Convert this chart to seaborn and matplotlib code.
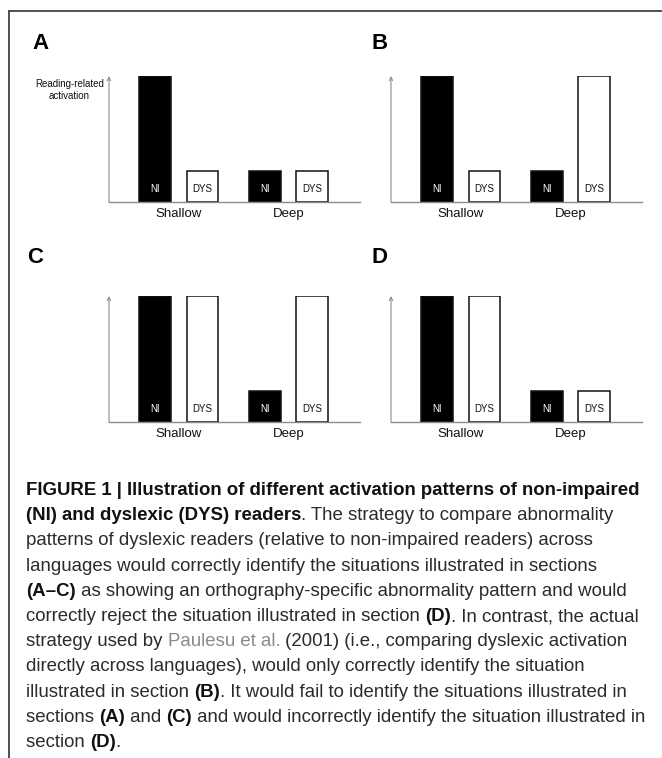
import pandas as pd
import matplotlib.pyplot as plt
import seaborn as sns
from matplotlib import font_manager
from matplotlib.lines import Line2D

# Valores (altura relativa da ativação)
scripts = ["Shallow", "Deep"]
groups = ["NI", "DYS"]
panel_names = ["A", "B", "C", "D"]
ni_values = {"A": [4, 1], "B": [4, 1], "C": [4, 1], "D": [4, 1]}
dys_values = {"A": [1, 1], "B": [1, 4], "C": [4, 4], "D": [4, 1]}
y_label = "Reading-related\nactivation"

caption_lines = [
    [("FIGURE 1 | Illustration of different activation patterns of non-impaired", "b")],
    [("(NI) and dyslexic (DYS) readers", "b"), (". The strategy to compare abnormality", "n")],
    [("patterns of dyslexic readers (relative to non-impaired readers) across", "n")],
    [("languages would correctly identify the situations illustrated in sections", "n")],
    [("(A\u2013C)", "b"), (" as showing an orthography-specific abnormality pattern and would", "n")],
    [("correctly reject the situation illustrated in section ", "n"), ("(D)", "b"),
     (". In contrast, the actual", "n")],
    [("strategy used by ", "n"), ("Paulesu et al.", "g"), (" (2001) (i.e., comparing dyslexic activation", "n")],
    [("directly across languages), would only correctly identify the situation", "n")],
    [("illustrated in section ", "n"), ("(B)", "b"), (". It would fail to identify the situations illustrated in", "n")],
    [("sections ", "n"), ("(A)", "b"), (" and ", "n"), ("(C)", "b"),
     (" and would incorrectly identify the situation illustrated in", "n")],
    [("section ", "n"), ("(D)", "b"), (".", "n")],
]

W, H = 662, 758
cap_font = "Liberation Sans"

sns.set_style("white")
plt.rcParams["font.family"] = ["Liberation Sans", "DejaVu Sans"]


def fx(x):
    return x / W


def fy(y):
    return 1 - y / H


fig = plt.figure(figsize=(W / 100, H / 100), dpi=100)

# posicoes dos paineis em pixels: (esquerda, topo)
boxes = {"A": (109, 76), "B": (391, 76), "C": (109, 296), "D": (391, 296)}
letters = {"A": (32, 49), "B": (371, 49), "C": (27, 263), "D": (371, 263)}
ax_w, ax_h = 251, 126

for name in panel_names:
    left, top = boxes[name]
    ax = fig.add_axes([fx(left), fy(top + ax_h), ax_w / W, ax_h / H])
    df = pd.DataFrame({
        "script": scripts * 2,
        "group": ["NI"] * 2 + ["DYS"] * 2,
        "activation": ni_values[name] + dys_values[name],
    })
    sns.barplot(data=df, x="script", y="activation", hue="group", hue_order=groups,
                palette={"NI": "black", "DYS": "white"}, edgecolor="#111111",
                linewidth=1.1, width=0.86, gap=0.33, legend=False, ax=ax)
    for cont, grp in zip(ax.containers, groups):
        for bar in cont:
            ax.text(bar.get_x() + bar.get_width() / 2, 0.42, grp, ha="center", va="center",
                    fontsize=7, color="white" if grp == "NI" else "#111111")
    ax.set_xlim(-0.636, 1.651)
    ax.set_ylim(0, 4)
    ax.set_xlabel("")
    ax.set_ylabel("")
    ax.set_yticks([])
    ax.tick_params(axis="x", length=0, pad=4.5, labelsize=9.5, labelcolor="#111111")
    for s in ["top", "right", "left"]:
        ax.spines[s].set_visible(False)
    ax.spines["bottom"].set_color("#8c8c8c")
    ax.spines["bottom"].set_linewidth(1.0)
    ax.annotate("", xy=(0, 1.0), xytext=(0, 0), xycoords="axes fraction",
                arrowprops=dict(arrowstyle="->", color="#8c8c8c", lw=0.8,
                                shrinkA=0, shrinkB=0, mutation_scale=6))
    ax.patch.set_alpha(0)
    lx, ly = letters[name]
    fig.text(fx(lx), fy(ly), name, fontsize=16, fontweight="bold", va="baseline", ha="left",
             color="black")

fig.text(fx(104), fy(90), y_label, ha="right", va="center", multialignment="center",
         fontsize=7, color="#111111", linespacing=1.15)

# moldura (linha de cima e da esquerda)
fig.add_artist(Line2D([fx(9), 1], [fy(11), fy(11)], transform=fig.transFigure,
                      color="#333333", lw=1.2))
fig.add_artist(Line2D([fx(9), fx(9)], [fy(11), 0], transform=fig.transFigure,
                      color="#333333", lw=1.2))

# legenda da figura com trechos em negrito
renderer = fig.canvas.get_renderer()
cap_size = 13.4
styles = {
    "b": dict(weight="bold", color="#111111"),
    "n": dict(weight="normal", color="#2b2b2b"),
    "g": dict(weight="normal", color="#8a8a8a"),
}


def text_width(s, st):
    fp = font_manager.FontProperties(family=cap_font, size=cap_size, weight=st["weight"])
    w1, _, _ = renderer.get_text_width_height_descent(s + "|", fp, ismath=False)
    w2, _, _ = renderer.get_text_width_height_descent("|", fp, ismath=False)
    return w1 - w2


for i, segs in enumerate(caption_lines):
    x = 26
    y = 495 + i * 25.2
    for txt, key in segs:
        st = styles[key]
        fig.text(fx(x), fy(y), txt, fontsize=cap_size, family=cap_font, fontweight=st["weight"],
                 color=st["color"], va="baseline", ha="left")
        x += text_width(txt, st)

plt.savefig("out.png", dpi=100)
